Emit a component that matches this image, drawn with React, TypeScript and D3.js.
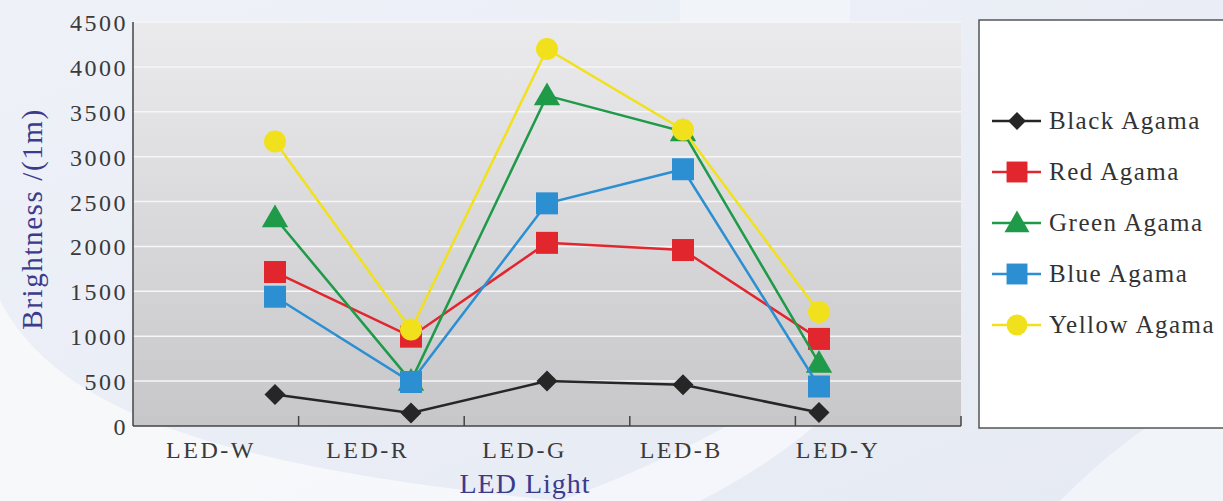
import React from "react";
import * as d3 from "d3";

const categories = ["LED-W", "LED-R", "LED-G", "LED-B", "LED-Y"];
const yTicks = [0, 500, 1000, 1500, 2000, 2500, 3000, 3500, 4000, 4500];
const seriesNames = ["Black Agama", "Red Agama", "Green Agama", "Blue Agama", "Yellow Agama"];
const blackValues = [350, 145, 500, 460, 150];
const redValues = [1715, 995, 2040, 1960, 970];
const greenValues = [2320, 500, 3680, 3280, 700];
const blueValues = [1440, 490, 2480, 2860, 440];
const yellowValues = [3170, 1075, 4200, 3300, 1270];

const seriesValues = [blackValues, redValues, greenValues, blueValues, yellowValues];
const seriesColors = ["#262626", "#e1262d", "#1e9a48", "#2b8fd2", "#f1e11c"];
const seriesShapes = ["diamond", "square", "triangle", "square", "circle"];

const W = 1223;
const H = 501;
const plot = { left: 133, right: 961, top: 22, bottom: 426 };

function Marker({ shape, x, y, color, s = 1 }: { shape: string; x: number; y: number; color: string; s?: number }) {
  if (shape === "square") {
    const h = 11 * s;
    return <rect x={x - h} y={y - h} width={2 * h} height={2 * h} fill={color} />;
  }
  if (shape === "circle") return <circle cx={x} cy={y} r={11 * s} fill={color} />;
  if (shape === "diamond") {
    const h = 10.5 * s;
    return <path d={`M${x},${y - h}L${x + h},${y}L${x},${y + h}L${x - h},${y}Z`} fill={color} />;
  }
  const sym = d3.symbol(d3.symbolTriangle, 300 * s * s)();
  return <path d={sym || ""} transform={`translate(${x},${y + 2})`} fill={color} />;
}

export default function App() {
  const y = d3.scaleLinear().domain([0, 4500]).range([plot.bottom, plot.top]);
  const band = d3.scaleBand().domain(categories).range([plot.left, plot.right]);
  const xMark = d3.scalePoint().domain(categories).range([275, 819]);
  const xLabel = d3.scalePoint().domain(categories).range([211, 838]);
  const line = d3
    .line<number>()
    .x((_, i) => xMark(categories[i]) as number)
    .y((v) => y(v));
  const font = "'Liberation Serif', 'DejaVu Serif', serif";

  return (
    <svg width={W} height={H} style={{ position: "absolute", left: 0, top: 0 }}>
      <defs>
        <linearGradient id="bg" x1="0" y1="0" x2="1" y2="1">
          <stop offset="0" stopColor="#eef1f8" />
          <stop offset="1" stopColor="#e6eaf3" />
        </linearGradient>
        <linearGradient id="plotbg" x1="0" y1="0" x2="0" y2="1">
          <stop offset="0" stopColor="#ebebed" />
          <stop offset="1" stopColor="#c7c7ca" />
        </linearGradient>
      </defs>
      <rect x={0} y={0} width={W} height={H} fill="url(#bg)" />
      <path d="M0,300 C60,420 250,470 560,501 L0,501 Z" fill="#f7f8fb" opacity={0.9} />
      <path d="M560,501 C700,450 820,380 900,300 C880,390 780,460 700,501 Z" fill="#f8f9fc" opacity={0.8} />
      <path d="M1060,501 C1120,440 1180,400 1223,390 L1223,501 Z" fill="#f4f6fa" opacity={0.8} />
      <rect x={680} y={0} width={170} height={22} fill="#f1f4f9" />

      <rect x={plot.left} y={plot.top} width={plot.right - plot.left} height={plot.bottom - plot.top} fill="url(#plotbg)" />
      {yTicks.slice(1).map((t) => (
        <line key={t} x1={plot.left} x2={plot.right} y1={y(t)} y2={y(t)} stroke="#f6f6f8" strokeWidth={1.5} />
      ))}
      <line x1={plot.left} x2={plot.left} y1={plot.top} y2={plot.bottom} stroke="#444" strokeWidth={1.5} />
      <line x1={plot.left} x2={plot.right} y1={plot.bottom} y2={plot.bottom} stroke="#444" strokeWidth={1.5} />
      {categories.map((c) => {
        const xx = (band(c) as number) + band.bandwidth();
        return <line key={c} x1={xx} x2={xx} y1={plot.bottom} y2={plot.bottom - 10} stroke="#444" strokeWidth={1.5} />;
      })}

      {yTicks.map((t) => (
        <text key={t} x={128} y={y(t) + 9} textAnchor="end" fontFamily={font} fontSize={24} fill="#3a3a3a" letterSpacing={2.5}>
          {t}
        </text>
      ))}
      {categories.map((c) => (
        <text key={c} x={xLabel(c)} y={458} textAnchor="middle" fontFamily={font} fontSize={24} fill="#3a3a3a" letterSpacing={2.5}>
          {c}
        </text>
      ))}
      <text x={525} y={493} textAnchor="middle" fontFamily={font} fontSize={28} fill="#3b3b8c" letterSpacing={1}>
        LED Light
      </text>
      <text
        transform="translate(42,219) rotate(-90)"
        textAnchor="middle"
        fontFamily={font}
        fontSize={29}
        fill="#3b3b8c"
        letterSpacing={1.6}
      >
        Brightness /(1m)
      </text>

      {seriesValues.map((vals, si) => (
        <g key={si}>
          <path d={line(vals) || ""} fill="none" stroke={seriesColors[si]} strokeWidth={2.5} />
          {vals.map((v, i) => (
            <Marker key={i} shape={seriesShapes[si]} x={xMark(categories[i]) as number} y={y(v)} color={seriesColors[si]} />
          ))}
        </g>
      ))}

      <rect x={979} y={20} width={260} height={408} fill="#ffffff" stroke="#555" strokeWidth={1.5} />
      {seriesNames.map((n, i) => {
        const ly = 121 + i * 51;
        return (
          <g key={n}>
            <line x1={992} x2={1041} y1={ly} y2={ly} stroke={seriesColors[i]} strokeWidth={2.5} />
            <Marker shape={seriesShapes[i]} x={1017} y={ly} color={seriesColors[i]} s={i === 0 ? 0.85 : 0.95} />
            <text x={1049} y={ly + 8} fontFamily={font} fontSize={25} fill="#333" letterSpacing={1.5}>
              {n}
            </text>
          </g>
        );
      })}
    </svg>
  );
}
